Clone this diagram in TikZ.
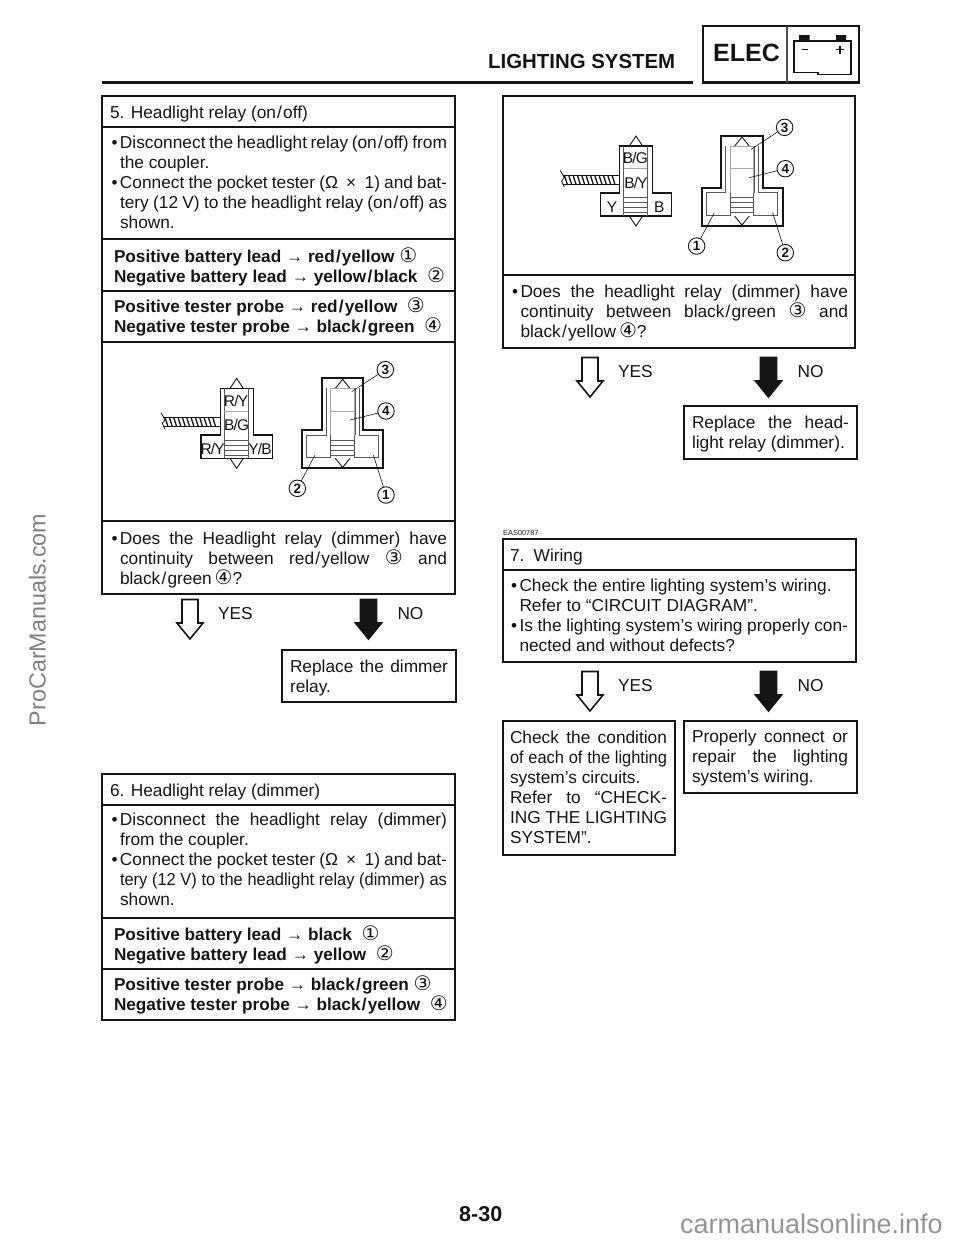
\documentclass[tikz,border=0pt]{standalone}
\usepackage{fontspec}
\setmainfont{Liberation Sans}
\newfontfamily\djv{DejaVu Sans}
\definecolor{ink}{HTML}{151515}
\tikzset{
 panel/.style={draw=ink,line width=2.2pt,fill=none,anchor=north west,inner sep=0pt,outer sep=0pt},
 txt/.style={anchor=north west,inner sep=0pt,outer sep=0pt,align=left,text=ink,font=\fontsize{17.3}{20.1}\selectfont},
 btxt/.style={txt,font=\fontsize{17.2}{20}\selectfont\bfseries},
 lab/.style={inner sep=0pt,outer sep=0pt,text=ink,font=\fontsize{17.3}{20}\selectfont},
 hollowarrow/.style={draw=ink,line width=1.6pt,fill=white,miter limit=10},
 solidarrow/.style={hollowarrow,fill=ink},
 num/.style={circle,draw=ink,line width=.9pt,fill=white,inner sep=0pt,outer sep=0pt,minimum size=16.5pt,text=ink,font=\fontsize{13.5}{13.5}\selectfont\bfseries},
 lead/.style={draw=ink,line width=.6pt},
 thickline/.style={draw=ink,line width=1.6pt},
 greyline/.style={draw=black!65,line width=.9pt},
 lightline/.style={draw=black!35,line width=.6pt},
 conlab/.style={inner sep=0pt,outer sep=0pt,text=ink,font=\fontsize{15.5}{16}\selectfont},
 water/.style={inner sep=0pt,outer sep=0pt,text=black!50,font=\fontsize{23.3}{24}\selectfont},
}
\newcommand{\pnl}[5]{\pgfmathsetmacro{\pw}{#4-#2}\pgfmathsetmacro{\ph}{#5-#3}\node[panel,minimum width=\pw pt,minimum height=\ph pt] (#1) at (#2,#3) {};}
\newcommand{\tb}[5][txt]{\pgfmathsetmacro{\ty}{#4-14}\node[#1] (#2) at (#3,\ty) {\rule{0pt}{14pt}#5};}
\newcommand{\J}[2]{\makebox[#1pt][s]{#2}}
\newcommand{\Jn}[2]{\makebox[#1pt][s]{\addfontfeature{FakeStretch=0.95}#2}}
\newcommand{\bul}{\makebox[8.5pt][l]{•}}
\newcommand{\ind}{\hspace*{8.5pt}}
\newcommand{\sls}{\kern1.2pt/\kern1.2pt}
\newcommand{\tsl}{\kern-0.8pt/\kern-0.8pt}
\newcommand{\cn}[1]{{\mdseries\djv\fontsize{20}{20}\selectfont\raisebox{-0.5pt}{#1}}}
\newcommand{\blockarrow}[3]{%
 \draw[#1] (#2-8,#3-20)--(#2+8,#3-20)--(#2+8,#3+3.5)--(#2+13,#3+3.5)--(#2,#3+19.5)--(#2-13,#3+3.5)--(#2-8,#3+3.5)--cycle;
}
\newcommand{\arrowpair}[3]{%
 \blockarrow{hollowarrow}{#2}{#3}
 \pgfmathsetmacro{\ax}{#2+178.5}
 \blockarrow{solidarrow}{\ax}{#3}
 \pgfmathsetmacro{\lx}{#2+28}
 \node[lab,anchor=base west] (#1yeslab) at (\lx,#3) {YES};
 \pgfmathsetmacro{\lx}{#2+207.5}
 \node[lab,anchor=base west] (#1nolab) at (\lx,#3) {NO};
}
\newcommand{\relaydiag}[9]{%
 \begin{scope}[shift={(#2,#3)},x=0.33333pt,y=-0.33333pt]
  \draw[draw=ink,line width=.9pt,fill=white] (390,145)--(410,115)--(430,145);
  \draw[draw=ink,line width=.9pt,fill=white] (390,355)--(410,385)--(430,355);
  \draw[thickline] (361,285)--(361,145)--(460,145)--(460,285)--(517,285)--(517,355)--(303,355)--(303,285)--cycle;
  \draw[greyline] (373,145)--(373,355) (444,145)--(444,355);
  \draw[lightline] (373,213)--(444,213);
  \foreach \yy in {300,315,330,345} {\draw[greyline] (373,\yy)--(444,\yy);}
  \draw[draw=ink,line width=.8pt] (190,232)--(360,232) (190,260)--(360,260);
  \draw[draw=ink,line width=.8pt] (183,218)--(195,240)--(187,250)--(195,268);
  \foreach \xx in {195,208,...,345} {\draw[draw=ink,line width=1.3pt] (\xx,232)--(\xx+9,260);}
  \node[conlab] (#1a) at (408,182) {#4};
  \node[conlab] (#1b) at (410,255) {#5};
  \node[conlab] (#1c) at (338,328) {#6};
  \node[conlab] (#1d) at (480,328) {#7};
  \draw[draw=ink,line width=.9pt,fill=white] (706,145)--(728,118)--(750,145);
  \draw[draw=ink,line width=.9pt,fill=white] (706,355)--(728,382)--(750,355);
  \draw[draw=ink,line width=2pt] (665,270)--(665,115)--(790,115)--(790,270)--(850,270)--(850,385)--(607,385)--(607,270)--cycle;
  \draw[greyline] (678,145)--(678,285)--(620,285)--(620,353)--(692,353)--(692,285);
  \draw[greyline] (762,285)--(762,353)--(835,353)--(835,285)--(778,285)--(778,145);
  \draw[greyline] (765,145)--(765,285);
  \draw[lightline] (692,145)--(692,285) (692,145)--(762,145)--(762,285) (692,213)--(762,213);
  \foreach \yy in {300,315,330,345} {\draw[greyline] (692,\yy)--(762,\yy);}
  \node[num] (#1n3) at (856,89) {3};
  \node[num] (#1n4) at (858,213) {4};
  \node[num] (#8) at (592,445) {\ifnum#9=1 1\else 2\fi};
  \coordinate (#1p3) at (755,155);
  \coordinate (#1p4) at (750,240);
  \draw[lead] (#1n3)--(#1p3);
  \draw[lead] (#1n4)--(#1p4);
  \coordinate (#1p5) at (645,345);
  \draw[lead] (#8)--(#1p5);
  \node[num] (#1nr) at (858,465) {\ifnum#9=1 2\else 1\fi};
  \coordinate (#1p6) at (820,345);
  \draw[lead] (#1nr)--(#1p6);
 \end{scope}
}
\begin{document}
\begin{tikzpicture}[x=1pt,y=-1pt]
\useasboundingbox (0,0) rectangle (960,1242);
% header
\node[inner sep=0pt,anchor=base west,text=ink,font=\fontsize{20.4}{21}\selectfont\bfseries] (head) at (488,68) {LIGHTING SYSTEM};
\coordinate (ruleL) at (102,82.5); \coordinate (ruleR) at (693,82.5);
\draw[draw=ink,line width=2.6pt] (ruleL)--(ruleR);
\pnl{elec}{703}{26}{859}{82.5}
\node[inner sep=0pt,anchor=base west,text=ink,font=\fontsize{25}{25}\selectfont\bfseries] (elect) at (713,61) {ELEC};
\draw[draw=black!70,line width=1.2pt] (787,26)--(787,82.5);
\draw[draw=ink,line width=1.1pt] (794,72.5)--(794,41)--(851,41)--(851,74.5)--(818,74.5)--(818,72.5)--cycle;
\fill[ink] (799,35)rectangle(809.5,41) (836,35)rectangle(846,41);
\draw[draw=ink,line width=1.3pt] (802,49.5)--(808,49.5) (836,49.5)--(844,49.5) (840,45.5)--(840,53.5);
% section 5
\pnl{r5t}{102}{96}{455}{127}
\pnl{r5a}{102}{127}{455}{239}
\pnl{r5b}{102}{239}{455}{291}
\pnl{r5c}{102}{291}{455}{342}
\pnl{r5d}{102}{342}{455}{521}
\pnl{r5e}{102}{521}{455}{594}
\tb{t5t}{110}{118}{5. Headlight relay (on\sls off)}
\tb{t5a}{111.5}{148}{\J{335.5}{\bul Disconnect the headlight relay (on\sls off) from}\\\ind the coupler.\\\J{335.5}{\bul Connect the pocket tester (Ω \ × \ 1) and bat-}\\\ind\J{327}{tery (12 V) to the headlight relay (on\sls off) as}\\\ind shown.}
\tb[btxt]{t5b}{114}{262}{Positive battery lead → red\sls yellow \cn{①}\\Negative battery lead → yellow\sls black \ \cn{②}}
\tb[btxt]{t5c}{114}{312}{Positive tester probe → red\sls yellow \ \cn{③}\\Negative tester probe → black\sls green \ \cn{④}}
\relaydiag{da}{100}{340}{R\tsl Y}{B\tsl G}{R\tsl Y}{Y\tsl B}{dan2}{2}
\tb{t5e}{111.5}{544}{\J{335.5}{\bul Does the Headlight relay (dimmer) have}\\\ind\J{327}{continuity between red\sls yellow \cn{③} and}\\\ind black\sls green\,\cn{④}?}
\arrowpair{a5}{190}{619.5}
\pnl{rep5}{282}{650}{456}{702}
\tb{t5r}{290}{672}{\J{158}{Replace the dimmer}\\relay.}
% section 6
\pnl{r6t}{102}{774}{455}{805}
\pnl{r6a}{102}{805}{455}{918}
\pnl{r6b}{102}{918}{455}{969}
\pnl{r6c}{102}{969}{455}{1020}
\tb{t6t}{110}{796}{6. Headlight relay (dimmer)}
\tb{t6a}{111.5}{825}{\J{335.5}{\bul Disconnect the headlight relay (dimmer)}\\\ind from the coupler.\\\J{335.5}{\bul Connect the pocket tester (Ω \ × \ 1) and bat-}\\\ind\Jn{327}{tery (12 V) to the headlight relay (dimmer) as}\\\ind shown.}
\tb[btxt]{t6b}{114}{940}{Positive battery lead → black \ \cn{①}\\Negative battery lead → yellow \ \cn{②}}
\tb[btxt]{t6c}{114}{990}{Positive tester probe → black\sls green \cn{③}\\Negative tester probe → black\sls yellow \ \cn{④}}
% right column top
\pnl{rdt}{503}{96}{855}{275}
\pnl{rde}{503}{275}{855}{348}
\relaydiag{db}{499.3}{97.7}{B\tsl G}{B\tsl Y}{Y}{B}{dbn1}{1}
\tb{tde}{512}{297}{\J{336}{\bul Does the headlight relay (dimmer) have}\\\ind\J{327.5}{continuity between black\sls green \cn{③} and}\\\ind black\sls yellow\,\cn{④}?}
\arrowpair{ad}{590}{377.5}
\pnl{repd}{684}{406}{857}{459}
\tb{tdr}{692}{428}{\J{157}{Replace the head-}\\light relay (dimmer).}
% section 7
\node[inner sep=0pt,anchor=base west,text=ink,font=\fontsize{7.4}{8}\selectfont] (eas) at (503,535.6) {EAS00787};
\pnl{r7t}{503}{539}{856}{570}
\pnl{r7a}{503}{570}{856}{662}
\tb{t7t}{510}{561}{7. \,Wiring}
\tb{t7a}{511}{591}{\bul Check the entire lighting system’s wiring.\\\ind Refer to “CIRCUIT DIAGRAM”.\\\J{337}{\bul Is the lighting system’s wiring properly con-}\\\ind nected and without defects?}
\arrowpair{a7}{590}{691.5}
\pnl{chk}{503}{721}{675}{855}
\pnl{prp}{684}{721}{857}{793}
\tb{tchk}{510}{743}{\J{157}{Check the condition}\\\Jn{157}{of each of the lighting}\\system’s circuits.\\\J{157}{Refer to “CHECK-}\\\J{157}{ING THE LIGHTING}\\SYSTEM”.}
\tb{tprp}{692}{742}{\J{156}{Properly connect or}\\\J{156}{repair the lighting}\\system’s wiring.}
% footer
\node[inner sep=0pt,anchor=base west,text=ink,font=\fontsize{21.5}{22}\selectfont\bfseries] (page) at (459,1221) {8-30};
\node[water,anchor=base west,rotate=90] (wm1) at (45.5,726) {ProCarManuals.com};
\node[water,anchor=base west,text=black!42,font=\fontsize{27}{27}\selectfont] (wm2) at (680,1233) {carmanualsonline.info};
\end{tikzpicture}
\end{document}
